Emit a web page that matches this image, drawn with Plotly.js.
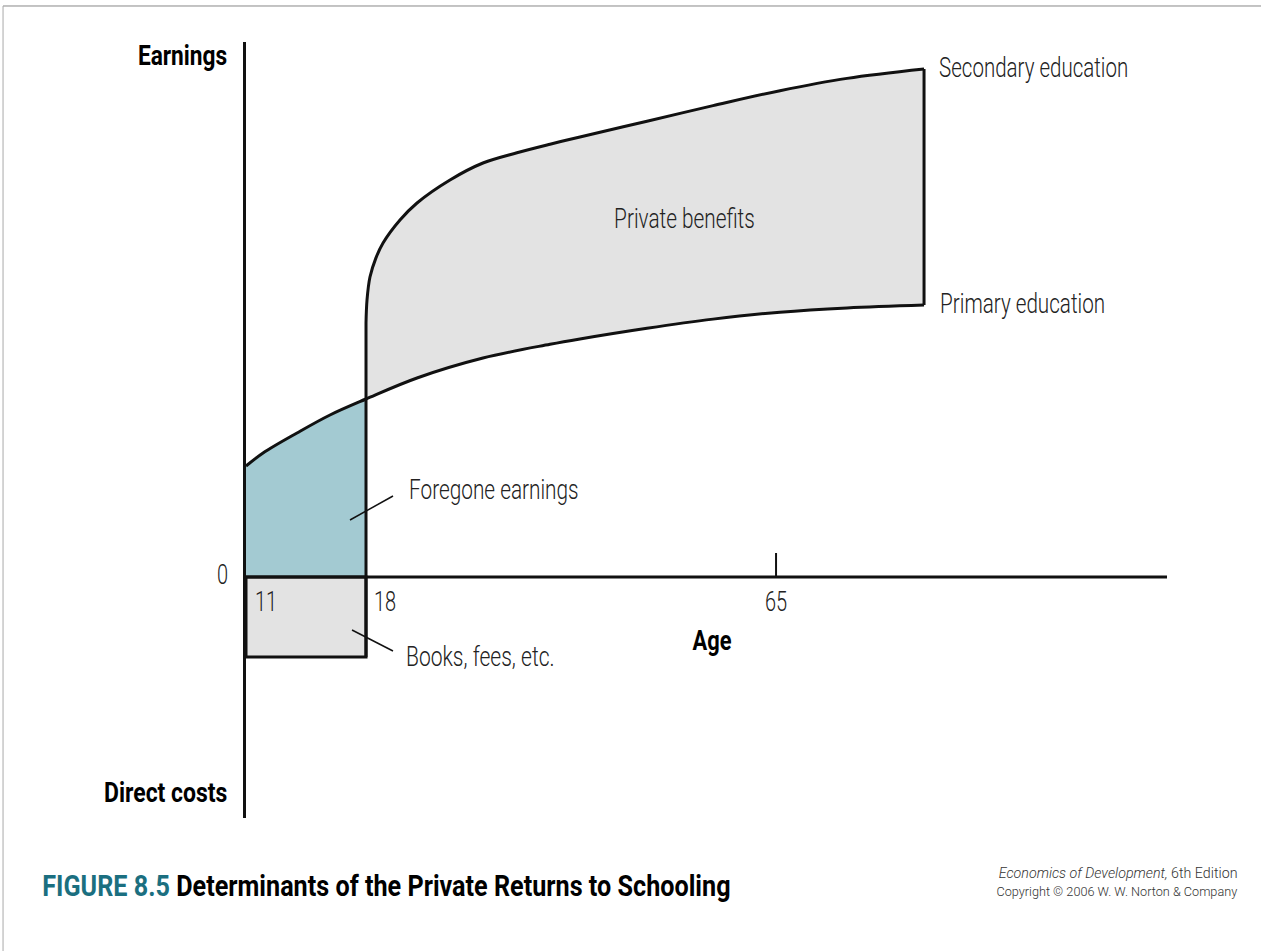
<!DOCTYPE html>
<html>
<head>
<meta charset="utf-8">
<script src="https://cdn.plot.ly/plotly-3.0.1.min.js"></script>
<style>
html,body{margin:0;padding:0;background:#fff;}
#chart{width:1261px;height:951px;}
</style>
</head>
<body>
<div id="chart"></div>
<script>
// ---- Schematic data (x: position along age axis in schematic units, y: earnings units) ----
const ageTickLabels = ["11", "18", "65"];
const ageTickPos = [0, 13.03, 57.55];

// Primary education earnings profile
const primaryX = [0, 1.85, 5.54, 9.12, 13.03, 18.57, 25.73, 33.01, 36.26, 43.54, 50.71, 57.98, 65.26, 73.62];
const primaryY = [20.75, 23.18, 26.92, 30.28, 33.27, 37.20, 40.93, 43.50, 44.50, 46.50, 48.20, 49.50, 50.30, 50.84];

// Secondary education earnings profile (starts at age 18)
const secondaryX = [13.03, 13.14, 13.46, 14.10, 14.88, 16.72, 18.57, 22.15, 25.73, 29.42, 33.01, 36.26, 43.54, 50.71, 57.98, 65.26, 73.62];
const secondaryY = [47.48, 51.78, 56.07, 59.60, 62.43, 66.73, 69.91, 74.21, 77.38, 79.30, 80.90, 82.25, 85.20, 88.10, 90.90, 93.20, 94.95];

// Direct costs (books, fees, etc.) during schooling
const directCost = -14.95;
const tick65Height = 4.49;

const LIGHT = "Roboto, 'Liberation Sans', sans-serif";
const BOLD = "Roboto, 'Liberation Sans', sans-serif";
const BLACK = "#111";

const schoolEndIdx = primaryX.indexOf(ageTickPos[1]);
const last = primaryX.length - 1;
const lastS = secondaryX.length - 1;
const benefitX = secondaryX.concat(primaryX.slice(schoolEndIdx).reverse());
const benefitY = secondaryY.concat(primaryY.slice(schoolEndIdx).reverse());
const foregoneX = [0].concat(primaryX.slice(0, schoolEndIdx + 1), [ageTickPos[1], 0]);
const foregoneY = [0].concat(primaryY.slice(0, schoolEndIdx + 1), [0, 0]);

const L = (x, y, w, extra) => Object.assign({x: x, y: y, mode: "lines",
  line: {color: BLACK, width: w}, hoverinfo: "skip"}, extra || {});

const traces = [
  {x: benefitX, y: benefitY, mode: "lines", fill: "toself", fillcolor: "#e3e3e3",
   line: {color: "rgba(0,0,0,0)", width: 0}, hoverinfo: "skip"},
  {x: foregoneX, y: foregoneY, mode: "lines", fill: "toself", fillcolor: "#a3cad2",
   line: {color: "rgba(0,0,0,0)", width: 0}, hoverinfo: "skip"},
  {x: [ageTickPos[0], ageTickPos[1], ageTickPos[1], ageTickPos[0], ageTickPos[0]],
   y: [0, 0, directCost, directCost, 0], mode: "lines", fill: "toself",
   fillcolor: "#e3e3e3", line: {color: BLACK, width: 3}, hoverinfo: "skip"},
  L([ageTickPos[1], ageTickPos[1]], [directCost, secondaryY[0]], 3),
  L([primaryX[last], secondaryX[lastS]], [primaryY[last], secondaryY[lastS]], 3),
  L(primaryX, primaryY, 3, {line: {color: BLACK, width: 3, shape: "spline", smoothing: 1}}),
  L(secondaryX, secondaryY, 3, {line: {color: BLACK, width: 3, shape: "spline", smoothing: 1}}),
  L([0, 100], [0, 0], 3),
  L([ageTickPos[2], ageTickPos[2]], [0, tick65Height], 2),
  L([11.29, 15.96], [10.65, 15.14], 1.5),
  L([11.51, 15.96], [-9.91, -13.83], 1.5)
];

const lightFont = {family: LIGHT, size: 27, color: "#222", weight: 300};
const boldFont = {family: BOLD, size: 28, color: "#000", weight: 700};

const annotations = [];
const annScale = [];
function add(a, s) { annotations.push(Object.assign({showarrow: false, yanchor: "middle"}, a)); annScale.push(s); }

const tickShift = [20, 19, 0];
ageTickLabels.forEach((t, i) => {
  add({x: ageTickPos[i], y: 0, text: t, xanchor: "center", xshift: tickShift[i], yshift: -25, font: lightFont}, 0.74);
});
add({x: 0, y: 0, text: "0", xanchor: "right", xshift: -16, yshift: 2, font: lightFont}, 0.74);
add({x: 0, y: 97.57, text: "<b>Earnings</b>", xanchor: "right", xshift: -17, font: boldFont}, 0.81);
add({x: 0, y: -40.19, text: "<b>Direct costs</b>", xanchor: "right", xshift: -17, font: boldFont}, 0.82);
add({x: 50.6, y: -11.78, text: "<b>Age</b>", xanchor: "center", font: boldFont}, 0.78);
add({x: 47.56, y: 66.92, text: "Private benefits", xanchor: "center", font: lightFont}, 0.77);
add({x: 75.03, y: 95.14, text: "Secondary education", xanchor: "left", font: lightFont}, 0.76);
add({x: 75.14, y: 51.03, text: "Primary education", xanchor: "left", font: lightFont}, 0.765);
add({x: 17.48, y: 16.26, text: "Foregone earnings", xanchor: "left", font: lightFont}, 0.77);
add({x: 17.16, y: -14.95, text: "Books, fees, etc.", xanchor: "left", font: lightFont}, 0.78);
add({xref: "paper", yref: "paper", x: -0.2237, y: -0.0876, xanchor: "left",
   text: "<b><span style=\"color:#1b6f80\">FIGURE 8.5</span> Determinants of the Private Returns to Schooling</b>",
   font: {family: BOLD, size: 30, color: "#000", weight: 700}}, 0.84);
add({xref: "paper", yref: "paper", x: 1.0793, y: -0.0712, xanchor: "right",
   text: "<i>Economics of Development,</i> 6th Edition", font: {family: LIGHT, size: 15, color: "#333", weight: 300}}, 0.95);
add({xref: "paper", yref: "paper", x: 1.0793, y: -0.0945, xanchor: "right",
   text: "Copyright © 2006 W. W. Norton & Company", font: {family: LIGHT, size: 13.5, color: "#333", weight: 300}}, 0.94);

const layout = {
  width: 1261, height: 951,
  margin: {l: 246, r: 94, t: 42, b: 133, pad: 0},
  paper_bgcolor: "#fff", plot_bgcolor: "#fff",
  showlegend: false,
  xaxis: {range: [0, 100], showgrid: false, zeroline: false, showticklabels: false, ticks: "",
    showline: false, fixedrange: true},
  yaxis: {range: [-45.05, 100], showgrid: false, showticklabels: false, ticks: "",
    zeroline: false, showline: true, linecolor: BLACK, linewidth: 3, fixedrange: true},
  annotations: annotations,
  shapes: [
    {type: "line", xref: "paper", yref: "paper", x0: -0.2638, x1: 1.2, y0: 1.0464, y1: 1.0464,
     line: {color: "#888", width: 1}},
    {type: "line", xref: "paper", yref: "paper", x0: -0.2638, x1: -0.2638, y0: 1.0464, y1: -0.2,
     line: {color: "#aaa", width: 1}}
  ]
};

function condense(gd) {
  const origin = {left: "left", right: "right", center: "center"};
  gd.querySelectorAll("g.annotation").forEach(g => {
    const i = +g.getAttribute("data-index");
    const t = g.querySelector("text.annotation-text");
    if (!t || annScale[i] == null) return;
    t.style.transformBox = "fill-box";
    t.style.transformOrigin = origin[annotations[i].xanchor] + " center";
    t.style.transform = "scaleX(" + annScale[i] + ")";
  });
}

Plotly.newPlot("chart", traces, layout, {displayModeBar: false, staticPlot: true}).then(condense);
</script>
</body>
</html>
